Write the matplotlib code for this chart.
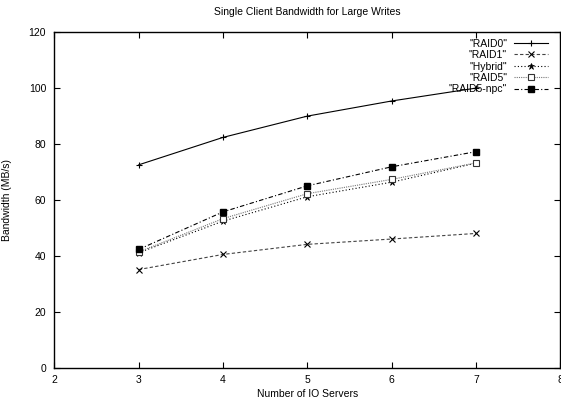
import numpy as np
import matplotlib
matplotlib.use("Agg")
import matplotlib.pyplot as plt

plt.rcParams["font.family"] = ["Liberation Sans", "DejaVu Sans"]
plt.rcParams["font.size"] = 7.5

servers = [3, 4, 5, 6, 7]
raid0 = [72.6, 82.4, 90.0, 95.4, 100.0]
raid1 = [35.2, 40.6, 44.2, 46.1, 48.1]
hybrid = [41.2, 52.5, 61.2, 66.4, 73.2]
raid5 = [41.5, 53.4, 62.3, 67.4, 73.3]
raid5_npc = [42.4, 55.8, 65.1, 71.9, 77.3]

fig = plt.figure(figsize=(5.61, 4.01), dpi=100)
ax = fig.add_axes([0.097, 0.082, 0.902, 0.838])

ax.plot(servers, raid0, color="black", linestyle="-", linewidth=0.8,
        marker="+", markersize=5, markeredgewidth=0.8, label='"RAID0"')
ax.plot(servers, raid1, color="#444444", linestyle=(0, (3, 2)), linewidth=0.8,
        marker="x", markersize=4, markeredgewidth=0.8, markeredgecolor="black", label='"RAID1"')
ax.plot(servers, hybrid, color="black", linestyle=(0, (1, 2)), linewidth=0.8,
        marker="*", markersize=5, markeredgewidth=0.5, label='"Hybrid"')
ax.plot(servers, raid5, color="#777777", linestyle=(0, (1, 1)), linewidth=0.8,
        marker="s", markersize=4, markerfacecolor="white", markeredgecolor="#333333",
        markeredgewidth=0.8, label='"RAID5"')
ax.plot(servers, raid5_npc, color="black", linestyle=(0, (4, 2, 1, 2)), linewidth=0.8,
        marker="s", markersize=5, label='"RAID5-npc"')

ax.set_xlim(2, 8)
ax.set_ylim(0, 120)
ax.set_xticks(np.arange(2, 9, 1))
ax.set_yticks(np.arange(0, 121, 20))
ax.tick_params(direction="in", top=True, right=True, length=4, width=0.8)
ax.tick_params(axis="y", pad=6)
ax.tick_params(axis="x", pad=5)
for s in ax.spines.values():
    s.set_linewidth(1.0)

ax.set_title("Single Client Bandwidth for Large Writes", fontsize=7.5, pad=12)
ax.set_xlabel("Number of IO Servers", labelpad=3)
ax.set_ylabel("Bandwidth (MB/s)", labelpad=12)

ax.legend(loc="upper right", bbox_to_anchor=(0.984, 0.993), markerfirst=False,
          frameon=False, handlelength=3.3, handletextpad=0.65, labelspacing=0.14,
          borderaxespad=0, numpoints=1, fontsize=7.5)

fig.savefig("out.png", dpi=100)
